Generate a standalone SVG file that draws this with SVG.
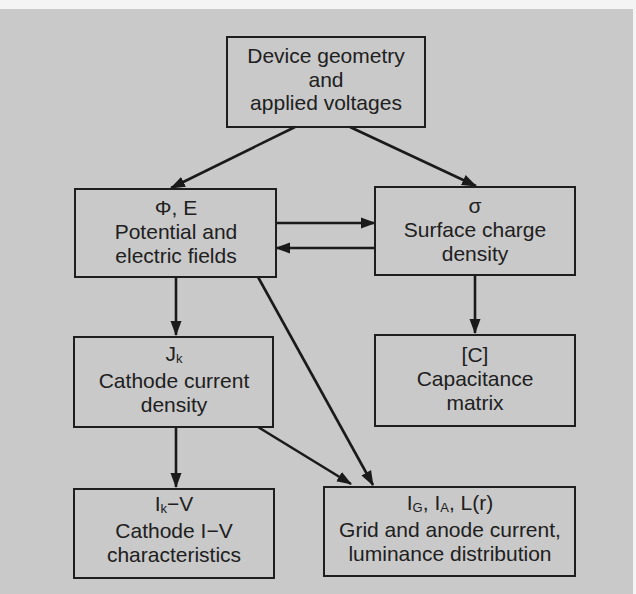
<svg xmlns="http://www.w3.org/2000/svg" width="636" height="594" viewBox="0 0 636 594">
<style>
.bx{fill:none;stroke:#1e1e1e;stroke-width:2}
.t{font-family:"Liberation Sans",Arial,sans-serif;font-size:21px;fill:#202020;text-anchor:middle}
.sub{font-size:13px}
.c{stroke:#1a1a1a;stroke-width:2.6;fill:none;marker-end:url(#ah)}
</style>
<defs>
<marker id="ah" markerUnits="userSpaceOnUse" markerWidth="15" markerHeight="12" refX="14" refY="5.5" orient="auto" viewBox="0 0 15 11">
<path d="M0,0 L15,5.5 L0,11 z" fill="#1a1a1a"/>
</marker>
</defs>
<rect x="0" y="0" width="636" height="594" fill="#f4f4f4"/>
<rect x="0" y="9" width="633" height="585" fill="#c9c9c9"/>
<g id="connectors">
<line class="c" x1="295" y1="127" x2="171" y2="188"/>
<line class="c" x1="350" y1="127" x2="476" y2="186"/>
<line class="c" x1="276" y1="223" x2="375" y2="223"/>
<line class="c" x1="375" y1="248" x2="276" y2="248"/>
<line class="c" x1="176" y1="277" x2="176" y2="335"/>
<line class="c" x1="475" y1="275" x2="475" y2="333"/>
<line class="c" x1="258" y1="277" x2="373" y2="485"/>
<line class="c" x1="258" y1="427" x2="351" y2="484"/>
<line class="c" x1="176" y1="427" x2="176" y2="487"/>
</g>
<g id="n_geom">
<rect class="bx" x="227" y="37" width="198" height="90"/>
<text class="t" x="326" y="63">Device geometry</text>
<text class="t" x="326" y="87">and</text>
<text class="t" x="326" y="110">applied voltages</text>
</g>
<g id="n_potential">
<rect class="bx" x="75" y="189" width="201" height="88"/>
<text class="t" x="176" y="215">Φ, E</text>
<text class="t" x="176" y="239">Potential and</text>
<text class="t" x="176" y="263">electric fields</text>
</g>
<g id="n_surface">
<rect class="bx" x="375" y="187" width="200" height="88"/>
<text class="t" x="475" y="213">σ</text>
<text class="t" x="475" y="237">Surface charge</text>
<text class="t" x="475" y="261">density</text>
</g>
<g id="n_cathode">
<rect class="bx" x="74" y="337" width="199" height="90"/>
<text class="t" x="174" y="361">J<tspan class="sub" dy="2">k</tspan></text>
<text class="t" x="174" y="388">Cathode current</text>
<text class="t" x="174" y="412">density</text>
</g>
<g id="n_capacitance">
<rect class="bx" x="375" y="335" width="200" height="91"/>
<text class="t" x="475" y="362">[C]</text>
<text class="t" x="475" y="386">Capacitance</text>
<text class="t" x="475" y="410">matrix</text>
</g>
<g id="n_iv">
<rect class="bx" x="74" y="489" width="200" height="89"/>
<text class="t" x="174" y="511">I<tspan class="sub" dy="2">k</tspan><tspan dy="-2">−V</tspan></text>
<text class="t" x="174" y="538">Cathode I−V</text>
<text class="t" x="174" y="562">characteristics</text>
</g>
<g id="n_grid">
<rect class="bx" x="324" y="487" width="251" height="89"/>
<text class="t" x="450" y="510">I<tspan class="sub" dy="2">G</tspan><tspan dy="-2">, I</tspan><tspan class="sub" dy="2">A</tspan><tspan dy="-2">, L(r)</tspan></text>
<text class="t" x="450" y="537">Grid and anode current,</text>
<text class="t" x="450" y="561">luminance distribution</text>
</g>
</svg>
